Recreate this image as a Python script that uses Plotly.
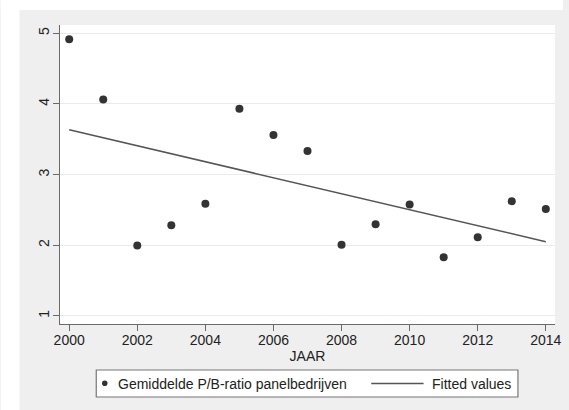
import plotly.graph_objects as go

# Yearly average P/B ratio of the panel companies
years = [2000, 2001, 2002, 2003, 2004, 2005, 2006, 2007,
         2008, 2009, 2010, 2011, 2012, 2013, 2014]
pb_ratio = [4.915, 4.062, 1.996, 2.284, 2.586, 3.932, 3.559, 3.333,
            2.005, 2.298, 2.577, 1.830, 2.114, 2.624, 2.511]

# Linear fit (end points of the fitted line)
fit_years = [2000, 2014]
fit_values = [3.634, 2.050]

x_ticks = [2000, 2002, 2004, 2006, 2008, 2010, 2012, 2014]
y_ticks = [1, 2, 3, 4, 5]

series_label = "Gemiddelde P/B-ratio panelbedrijven"
fit_label = "Fitted values"
x_title = "JAAR"

FONT = "Arial, Liberation Sans, Helvetica, sans-serif"
TEXT = "#222222"
BG = "#efefef"
MARK = "#333333"
FITC = "#555555"
AXIS = "#6a6a6a"

W, H = 569, 410
ML, MR, MT, MB = 60, 8, 25, 86
PW, PH = W - ML - MR, H - MT - MB


def px(x):
    return (x - ML) / PW


def py(y):
    return (H - MB - y) / PH


fig = go.Figure()
fig.add_trace(go.Scatter(
    x=years, y=pb_ratio, mode="markers", name=series_label,
    marker=dict(color=MARK, size=8, line=dict(width=0)),
    showlegend=False,
))
fig.add_trace(go.Scatter(
    x=fit_years, y=fit_values, mode="lines", name=fit_label,
    line=dict(color=FITC, width=1.5),
    showlegend=False,
))

shapes = [
    # outer white strips around the grey graph region
    dict(type="rect", xref="paper", yref="paper", layer="below",
         x0=px(0), x1=px(W), y0=py(0), y1=py(10),
         fillcolor="white", line=dict(width=0)),
    dict(type="rect", xref="paper", yref="paper", layer="below",
         x0=px(0), x1=px(19), y0=py(0), y1=py(H),
         fillcolor="white", line=dict(width=0)),
    # legend box
    dict(type="rect", xref="paper", yref="paper",
         x0=px(96.7), x1=px(523.5), y0=py(370), y1=py(397),
         fillcolor="white", line=dict(color="#777777", width=1.2)),
    # legend symbol: marker
    dict(type="circle", xref="paper", yref="paper",
         x0=px(105.3 - 2.8), x1=px(105.3 + 2.8),
         y0=py(383.3 - 2.8), y1=py(383.3 + 2.8),
         fillcolor=MARK, line=dict(width=0)),
    # legend symbol: line
    dict(type="line", xref="paper", yref="paper",
         x0=px(375), x1=px(428), y0=py(383.5), y1=py(383.5),
         line=dict(color=FITC, width=1.5)),
]

annotations = [
    dict(text=series_label, xref="paper", yref="paper",
         x=px(116.5), y=py(383.5), xanchor="left", yanchor="middle",
         showarrow=False, font=dict(family=FONT, size=14, color=TEXT)),
    dict(text=fit_label, xref="paper", yref="paper",
         x=px(434.5), y=py(383.5), xanchor="left", yanchor="middle",
         showarrow=False, font=dict(family=FONT, size=14, color=TEXT)),
]

fig.update_layout(
    width=W, height=H,
    margin=dict(l=ML, r=MR, t=MT, b=MB, pad=0),
    paper_bgcolor=BG,
    plot_bgcolor="white",
    font=dict(family=FONT, size=14, color=TEXT),
    shapes=shapes,
    annotations=annotations,
    showlegend=False,
    xaxis=dict(
        range=[1999.73, 2014.27],
        tickvals=x_ticks, ticktext=[str(v) for v in x_ticks],
        ticks="outside", ticklen=6, tickwidth=1.2, tickcolor=AXIS,
        showline=True, linecolor=AXIS, linewidth=1.2,
        showgrid=False, zeroline=False,
        tickfont=dict(family=FONT, size=14, color=TEXT),
        ticklabelstandoff=-3,
        title=dict(text=x_title, standoff=4,
                   font=dict(family=FONT, size=14, color=TEXT)),
    ),
    yaxis=dict(
        range=[0.885, 5.117],
        tickvals=y_ticks, ticktext=[str(v) for v in y_ticks],
        ticks="outside", ticklen=6, tickwidth=1.2, tickcolor=AXIS,
        showline=True, linecolor=AXIS, linewidth=1.2,
        showgrid=True, gridcolor="#ebebeb", gridwidth=1,
        zeroline=False, tickangle=-90,
        ticklabelstandoff=-2,
        tickfont=dict(family=FONT, size=14, color=TEXT),
    ),
)

fig.write_html("out.html")
